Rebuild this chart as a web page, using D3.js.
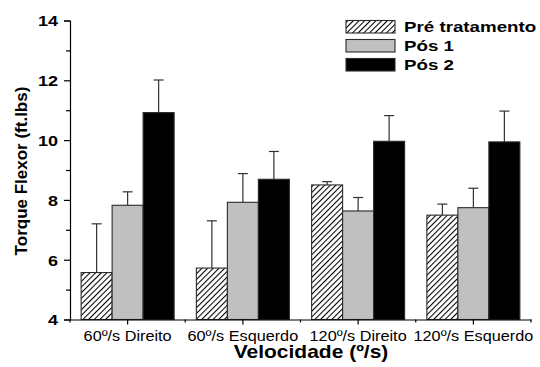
<!DOCTYPE html>
<html><head><meta charset="utf-8">
<script src="https://cdn.jsdelivr.net/npm/d3@7"></script>
<style>body{margin:0;background:#fff}svg{display:block}text{font-family:"Liberation Sans",Arial,sans-serif}</style>
</head><body>
<script>
const categories = ["60º/s Direito", "60º/s Esquerdo", "120º/s Direito", "120º/s Esquerdo"];
const seriesNames = ["Pré tratamento", "Pós 1", "Pós 2"];
const preValues = [5.57, 5.72, 8.50, 7.49];
const preErrTop = [7.20, 7.30, 8.61, 7.86];
const pos1Values = [7.82, 7.92, 7.63, 7.74];
const pos1ErrTop = [8.27, 8.88, 8.08, 8.39];
const pos2Values = [10.92, 8.69, 9.96, 9.94];
const pos2ErrTop = [12.01, 9.62, 10.82, 10.97];
const yTicks = [4, 6, 8, 10, 12, 14];

const W = 540, H = 367;
const FONT = "'Liberation Sans',Arial,sans-serif";
const svg = d3.select("body").append("svg").attr("width", W).attr("height", H);
const defs = svg.append("defs");
const pat = defs.append("pattern").attr("id","hatch").attr("patternUnits","userSpaceOnUse")
  .attr("width",4).attr("height",4).attr("patternTransform","rotate(45)");
pat.append("rect").attr("width",4).attr("height",4).attr("fill","#fff");
pat.append("line").attr("x1",0.5).attr("y1",0).attr("x2",0.5).attr("y2",4).attr("stroke","#000").attr("stroke-width",1.1);

const fills = ["url(#hatch)", "#c0c0c0", "#000"];
const values = [preValues, pos1Values, pos2Values];
const errs = [preErrTop, pos1ErrTop, pos2ErrTop];

const x0 = 70, x1 = 531, yTop = 20.5, yBot = 319.5;
const x = d3.scaleBand().domain(categories).range([x0, x1]).paddingInner(0).paddingOuter(0);
const y = d3.scaleLinear().domain([4, 14]).range([yBot, yTop]);
const barW = 31;
const xs = d3.scaleBand().domain(seriesNames).range([0, barW*3]);

function stretchText(sel, sx) {
  sel.each(function() {
    const t = d3.select(this);
    const tx = +t.attr("x") || 0, ty = +t.attr("y") || 0;
    t.attr("x", 0).attr("y", 0).attr("transform", `translate(${tx},${ty}) scale(${sx},1)`);
  });
}

const g = svg.append("g");
seriesNames.forEach((s, si) => {
  categories.forEach((c, ci) => {
    const cx = x(c) + x.bandwidth()/2 - barW*1.5 + xs(s);
    const v = values[si][ci], e = errs[si][ci];
    g.append("line").attr("x1", cx + barW/2).attr("x2", cx + barW/2)
      .attr("y1", y(v)).attr("y2", y(e)).attr("stroke","#333").attr("stroke-width",1.2);
    g.append("line").attr("x1", cx + barW/2 - 5).attr("x2", cx + barW/2 + 5)
      .attr("y1", y(e)).attr("y2", y(e)).attr("stroke","#333").attr("stroke-width",1.2);
  });
});
seriesNames.forEach((s, si) => {
  categories.forEach((c, ci) => {
    const cx = x(c) + x.bandwidth()/2 - barW*1.5 + xs(s);
    const v = values[si][ci];
    g.append("rect").attr("x", cx).attr("y", y(v)).attr("width", barW).attr("height", y(4) - y(v))
      .attr("fill", fills[si]).attr("stroke", "#2a2a2a").attr("stroke-width", 1.1);
  });
});

// Y axis
const yAxis = svg.append("g").attr("transform", `translate(${x0},0)`)
  .call(d3.axisLeft(y).tickValues(yTicks).tickSize(6).tickPadding(6).tickFormat(d3.format("d")));
yAxis.selectAll(".tick text").attr("font-size", 15).attr("font-weight","bold").attr("fill","#000")
  .style("font-family", FONT).attr("dy", null);
yAxis.selectAll(".tick text").attr("y", 5.3);
stretchText(yAxis.selectAll(".tick text"), 1.2);
svg.append("g").attr("transform", `translate(${x0},0)`)
  .call(d3.axisLeft(y).tickValues([5,7,9,11,13]).tickSize(4).tickFormat(""))
  .call(a => a.select(".domain").remove());
svg.selectAll(".domain, .tick line").attr("stroke","#000").attr("stroke-width",1.2);

// X axis
const xAxis = svg.append("g").attr("transform", `translate(0,${yBot})`)
  .call(d3.axisBottom(x).tickSize(5).tickPadding(6).tickSizeOuter(0));
xAxis.selectAll(".tick text").attr("font-size", 14).attr("fill","#000")
  .style("font-family", FONT).attr("dy", null).attr("y", 21);
stretchText(xAxis.selectAll(".tick text"), 1.16);
xAxis.select(".domain").attr("stroke","#000").attr("stroke-width",1.2);
xAxis.selectAll(".tick line").attr("stroke","#000").attr("stroke-width",1.2);
const bounds = categories.map(c => x(c)).concat([x1]);
svg.append("g").selectAll("line").data(bounds).join("line")
  .attr("x1", d => d).attr("x2", d => d).attr("y1", yBot).attr("y2", yBot + 3)
  .attr("stroke","#000").attr("stroke-width",1.2);

// Titles
svg.append("text").attr("transform", "translate(311,358) scale(1.2,1)").attr("text-anchor","middle")
  .attr("font-size", 17.5).attr("font-weight","bold").text("Velocidade (º/s)");
svg.append("text").attr("transform", "translate(27,171) rotate(-90)").attr("text-anchor","middle")
  .attr("font-size", 17).attr("font-weight","bold").text("Torque Flexor (ft.lbs)");

// Legend
const leg = svg.append("g");
seriesNames.forEach((s, i) => {
  const ly = 20.5 + i*19;
  leg.append("rect").attr("x", 346).attr("y", ly).attr("width", 49).attr("height", 12.5)
    .attr("fill", fills[i]).attr("stroke","#2a2a2a").attr("stroke-width",1.1);
  leg.append("text").attr("transform", `translate(404,${ly + 11.5}) scale(1.25,1)`)
    .attr("font-size", 15).attr("font-weight","bold").text(s);
});
</script>
</body></html>
